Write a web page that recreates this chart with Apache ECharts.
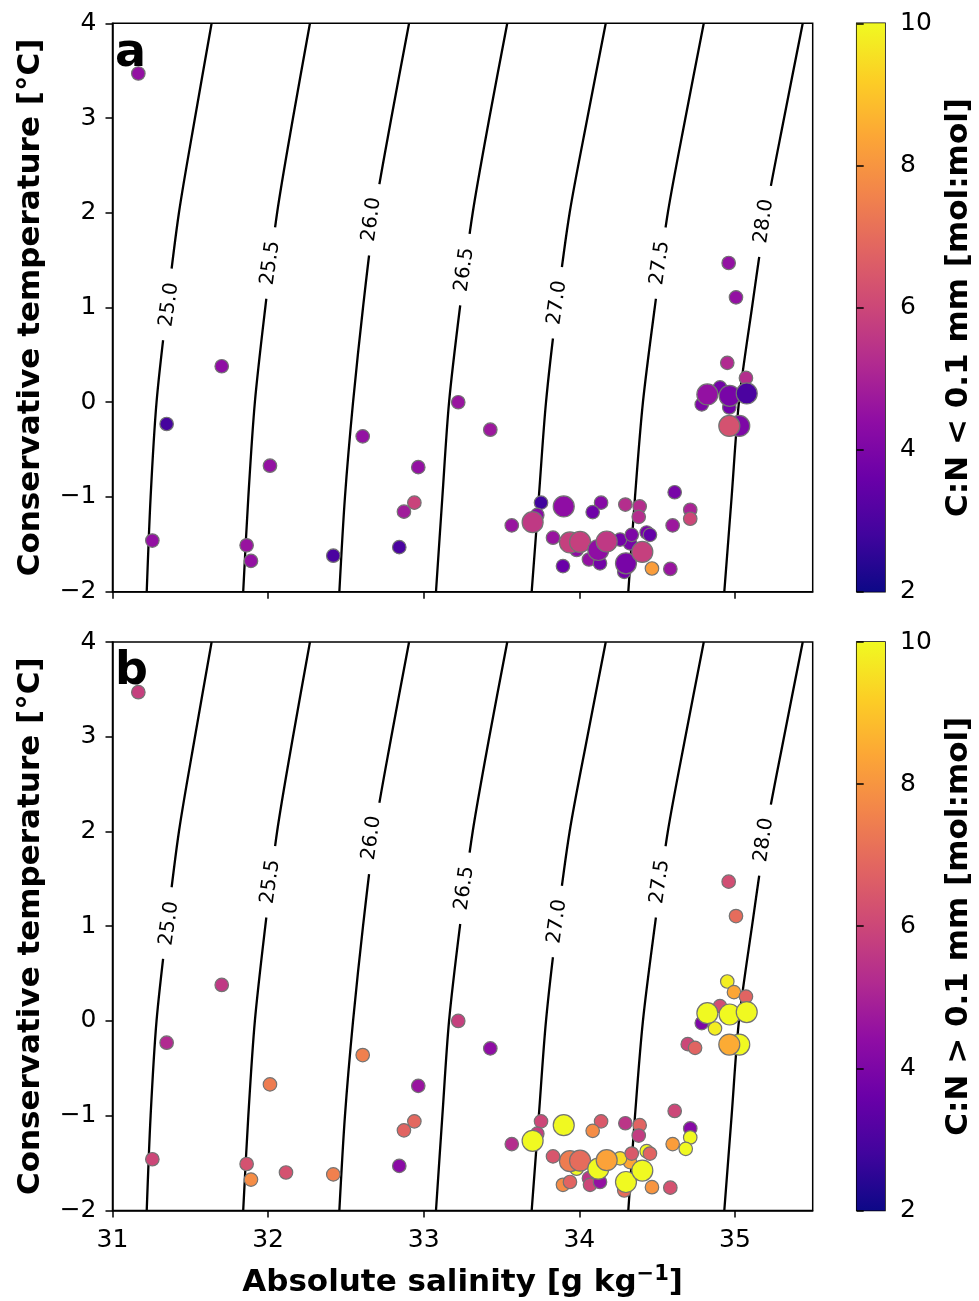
<!DOCTYPE html>
<html>
<head>
<meta charset="utf-8">
<script src="https://cdn.jsdelivr.net/npm/echarts@6/dist/echarts.min.js"></script>
<style>
  html, body { margin: 0; padding: 0; background: #fff; }
  #chart { width: 979px; height: 1301px; }
</style>
</head>
<body>
<div id="chart"></div>
<script>
// stations: absolute salinity, conservative temperature, size class, C:N of the two fractions
var salinity = [31.166, 31.702, 31.348, 31.256, 32.012, 31.862, 31.890, 32.419, 32.608, 32.965,
  32.940, 32.873, 32.843, 32.115, 33.222, 33.428, 34.960, 35.007, 34.951, 34.994,
  35.071, 34.904, 34.787, 34.964, 34.872, 34.697, 34.744, 34.823, 34.966, 35.076,
  35.028, 34.964, 33.754, 34.140, 34.086, 34.296, 34.388, 34.382, 34.613, 34.713,
  34.713, 34.684, 34.600, 33.566, 33.730, 33.831, 33.983, 33.895, 33.940, 34.062,
  34.069, 34.133, 34.289, 34.433, 34.454, 34.326, 34.262, 34.337, 34.467, 34.585,
  33.900, 33.700, 33.940, 34.005, 34.122, 34.176, 34.300, 34.405];
var temperature = [3.47, 0.38, -0.23, -1.46, -0.67, -1.51, -1.675, -1.62, -0.36, -0.685,
  -1.06, -1.155, -1.53, -1.60, 0.00, -0.29, 1.47, 1.107, 0.416, 0.304,
  0.257, 0.156, -0.023, -0.055, -0.08, -0.245, -0.284, 0.082, 0.068, 0.093,
  -0.25, -0.25, -1.06, -1.06, -1.16, -1.08, -1.10, -1.21, -0.95, -1.135,
  -1.23, -1.35, -1.30, -1.30, -1.19, -1.43, -1.56, -1.73, -1.70, -1.66,
  -1.73, -1.70, -1.79, -1.375, -1.40, -1.49, -1.45, -1.40, -1.755, -1.76,
  -1.10, -1.266, -1.48, -1.475, -1.56, -1.47, -1.70, -1.58];
var sizeClass = [1, 1, 1, 1, 1, 1, 1, 1, 1, 1,
  1, 1, 1, 1, 1, 1, 1, 1, 1, 1,
  1, 1, 1, 1, 1, 1, 1, 2, 2, 2,
  2, 2, 1, 1, 1, 1, 1, 1, 1, 1,
  1, 1, 1, 1, 1, 1, 1, 1, 1, 1,
  1, 1, 1, 1, 1, 1, 1, 1, 1, 1,
  2, 2, 2, 2, 2, 2, 2, 2];
var cnFine = [4.5, 4.4, 2.9, 4.5, 4.5, 4.6, 4.5, 3.0, 4.5, 4.5,
  5.9, 4.8, 3.0, null, 4.6, 4.7, 4.5, 4.5, 5.2, null,
  5.3, 3.8, 4.0, 3.8, null, null, null, 4.5, 3.9, 3.0,
  4.0, 6.3, 2.8, 4.2, 3.7, 5.3, 5.3, 5.3, 3.9, 5.0,
  6.0, null, 4.7, 4.6, 4.3, 4.6, 4.4, 3.6, null, 4.5,
  null, 3.8, 3.8, 3.9, 3.5, 3.9, 3.8, 4.0, 8.2, 4.6,
  4.4, 5.6, 5.8, 5.8, 4.4, 5.6, 3.9, 5.8];
var cnCoarse = [5.8, 5.6, 5.2, 6.0, 7.4, 6.3, 7.8, 7.5, 7.5, 4.6,
  6.9, 6.8, 4.3, 6.3, 5.8, 4.4, 6.2, 7.0, 9.8, 8.4,
  6.8, 6.2, 4.0, null, 9.8, 6.0, 6.8, 10, 10, 10,
  10, 8.5, 6.0, 6.5, 7.8, 5.5, 6.8, 5.7, 6.0, 4.2,
  10, 10, 8.2, 5.3, 5.8, 6.4, 10, 7.8, 6.8, 5.5,
  6.0, 4.5, 7.0, 10, 6.8, 8.4, 9.5, 6.5, 8.0, 6.3,
  10, 10, 7.4, 7.0, 10, 8.3, 10, 10];

// isopycnals (sigma0), salinity read at each temperature level
var isoNames = ['25.0', '25.5', '26.0', '26.5', '27.0', '27.5', '28.0'];
var isoCT = [-2, -1, 0, 1, 2, 3, 4];
var isoSA = [
  [31.220, 31.245, 31.283, 31.350, 31.427, 31.530, 31.637],
  [31.840, 31.873, 31.915, 31.982, 32.058, 32.160, 32.269],
  [32.458, 32.494, 32.546, 32.610, 32.685, 32.792, 32.906],
  [33.079, 33.120, 33.163, 33.233, 33.315, 33.422, 33.537],
  [33.694, 33.740, 33.786, 33.855, 33.938, 34.052, 34.170],
  [34.315, 34.358, 34.409, 34.485, 34.569, 34.682, 34.800],
  [34.932, 34.979, 35.026, 35.110, 35.200, 35.316, 35.436]
];
var isoLabelSA = [31.365, 32.015, 32.665, 33.262, 33.858, 34.518, 35.187];
var isoLabelCT = [1.03, 1.47, 1.93, 1.40, 1.05, 1.47, 1.91];

var xTicks = [31, 32, 33, 34, 35];
var plasma = ['#0d0887', '#41049d', '#6a00a8', '#8f0da4', '#b12a90', '#cc4778',
  '#e16462', '#f2844b', '#fca636', '#fcce25', '#f0f921'];

var font = 'DejaVu Sans';
var myChart = echarts.init(document.getElementById('chart'));

function points(cn) {
  var out = [];
  for (var i = 0; i < salinity.length; i++) {
    if (cn[i] === null) continue;
    out.push([salinity[i], temperature[i], cn[i], sizeClass[i]]);
  }
  return out;
}

function minus(v) {
  return v < 0 ? '\u2212' + Math.abs(v) : String(v);
}

var gridTops = [23.3, 642];
var grids = [], xAxes = [], yAxes = [], series = [], visualMaps = [];

for (var p = 0; p < 2; p++) {
  grids.push({ left: 112.5, top: gridTops[p], width: 700.2, height: 568.4,
    show: true, borderColor: '#000', borderWidth: 1.5, backgroundColor: 'transparent' });
  xAxes.push({
    gridIndex: p, type: 'value', min: 31, max: 35.5,
    axisLine: { onZero: false, lineStyle: { color: '#000', width: 1.5 } },
    axisTick: { customValues: xTicks, length: 7, lineStyle: { color: '#000', width: 1.5 } },
    axisLabel: { show: p === 1, customValues: xTicks, color: '#000', fontSize: 25, fontFamily: font, margin: 18 },
    splitLine: { show: false },
    name: p === 1 ? 'Absolute salinity [g kg{sup|\u22121}]' : '',
    nameLocation: 'middle', nameGap: 54,
    nameTextStyle: { color: '#000', fontSize: 31, fontWeight: 'bold', fontFamily: font,
      rich: { sup: { fontSize: 21, fontWeight: 'bold', fontFamily: font, color: '#000',
        verticalAlign: 'bottom', padding: [0, 0, 16, 0] } } }
  });
  yAxes.push({
    gridIndex: p, type: 'value', min: -2, max: 4, interval: 1,
    axisLine: { onZero: false, lineStyle: { color: '#000', width: 1.5 } },
    axisTick: { length: 7, lineStyle: { color: '#000', width: 1.5 } },
    axisLabel: { color: '#000', fontSize: 25, fontFamily: font, margin: 16, formatter: minus },
    splitLine: { show: false },
    name: 'Conservative temperature [\u00b0C]',
    nameLocation: 'middle', nameGap: 66, nameRotate: 90,
    nameTextStyle: { color: '#000', fontSize: 31, fontWeight: 'bold', fontFamily: font }
  });

  // isopycnal lines
  for (var k = 0; k < isoNames.length; k++) {
    var line = [];
    for (var j = 0; j < isoCT.length; j++) line.push([isoSA[k][j], isoCT[j]]);
    series.push({
      type: 'line', xAxisIndex: p, yAxisIndex: p, data: line, smooth: 0.3,
      symbol: 'none', silent: true, z: 1,
      lineStyle: { color: '#000', width: 2.3 }
    });
  }
  // isopycnal labels, on a white patch that breaks the line
  var labs = [];
  for (var k2 = 0; k2 < isoNames.length; k2++) labs.push([isoLabelSA[k2], isoLabelCT[k2], isoNames[k2]]);
  series.push({
    type: 'scatter', xAxisIndex: p, yAxisIndex: p, data: labs, z: 2, silent: true,
    symbol: 'rect', symbolSize: [20, 72], symbolRotate: -8,
    itemStyle: { color: '#fff', borderWidth: 0, opacity: 1 },
    label: { show: true, position: 'inside', rotate: 82, color: '#000', fontSize: 20, fontFamily: font,
      formatter: function (q) { return q.value[2]; } }
  });
  // stations
  series.push({
    type: 'scatter', xAxisIndex: p, yAxisIndex: p, z: 3,
    data: points(p === 0 ? cnFine : cnCoarse),
    symbolSize: function (v) { return v[3] === 2 ? 21 : 13.5; },
    itemStyle: { borderColor: '#737373', borderWidth: 1.2, opacity: 1 }
  });
  visualMaps.push({
    show: false, type: 'continuous', min: 2, max: 10, dimension: 2,
    seriesIndex: series.length - 1, inRange: { color: plasma }
  });
}

// colorbars
var cbNames = ['C:N < 0.1 mm [mol:mol]', 'C:N > 0.1 mm [mol:mol]'];
for (var c = 0; c < 2; c++) {
  grids.push({ left: 856.7, top: gridTops[c], width: 28.3, height: 568.4,
    show: true, borderColor: '#000', borderWidth: 1.5, backgroundColor: 'transparent' });
  xAxes.push({ gridIndex: 2 + c, type: 'value', min: 0, max: 1, show: false });
  yAxes.push({
    gridIndex: 2 + c, type: 'value', min: 2, max: 10, interval: 2, position: 'right',
    axisLine: { show: false },
    axisTick: { length: 7, lineStyle: { color: '#000', width: 1.5 } },
    axisLabel: { color: '#000', fontSize: 25, fontFamily: font, margin: 15 },
    splitLine: { show: false },
    name: cbNames[c], nameLocation: 'middle', nameGap: 58, nameRotate: 90,
    nameTextStyle: { color: '#000', fontSize: 31, fontWeight: 'bold', fontFamily: font }
  });
  series.push({
    type: 'custom', xAxisIndex: 2 + c, yAxisIndex: 2 + c, data: [[0, 2]], silent: true, z: 0,
    renderItem: function (params, api) {
      var lo = api.coord([0, 2]);
      var hi = api.coord([1, 10]);
      var stops = plasma.map(function (col, i) { return { offset: i / (plasma.length - 1), color: col }; });
      return {
        type: 'rect',
        shape: { x: lo[0], y: hi[1], width: hi[0] - lo[0], height: lo[1] - hi[1] },
        style: { fill: new echarts.graphic.LinearGradient(0, 1, 0, 0, stops) }
      };
    }
  });
}

var option = {
  animation: false,
  backgroundColor: '#fff',
  title: [
    { text: 'a', left: 110, top: 26, textStyle: { fontSize: 46, fontWeight: 'bold', color: '#000', fontFamily: font } },
    { text: 'b', left: 110, top: 644, textStyle: { fontSize: 46, fontWeight: 'bold', color: '#000', fontFamily: font } }
  ],
  grid: grids,
  xAxis: xAxes,
  yAxis: yAxes,
  visualMap: visualMaps,
  series: series
};
myChart.setOption(option);
</script>
</body>
</html>
